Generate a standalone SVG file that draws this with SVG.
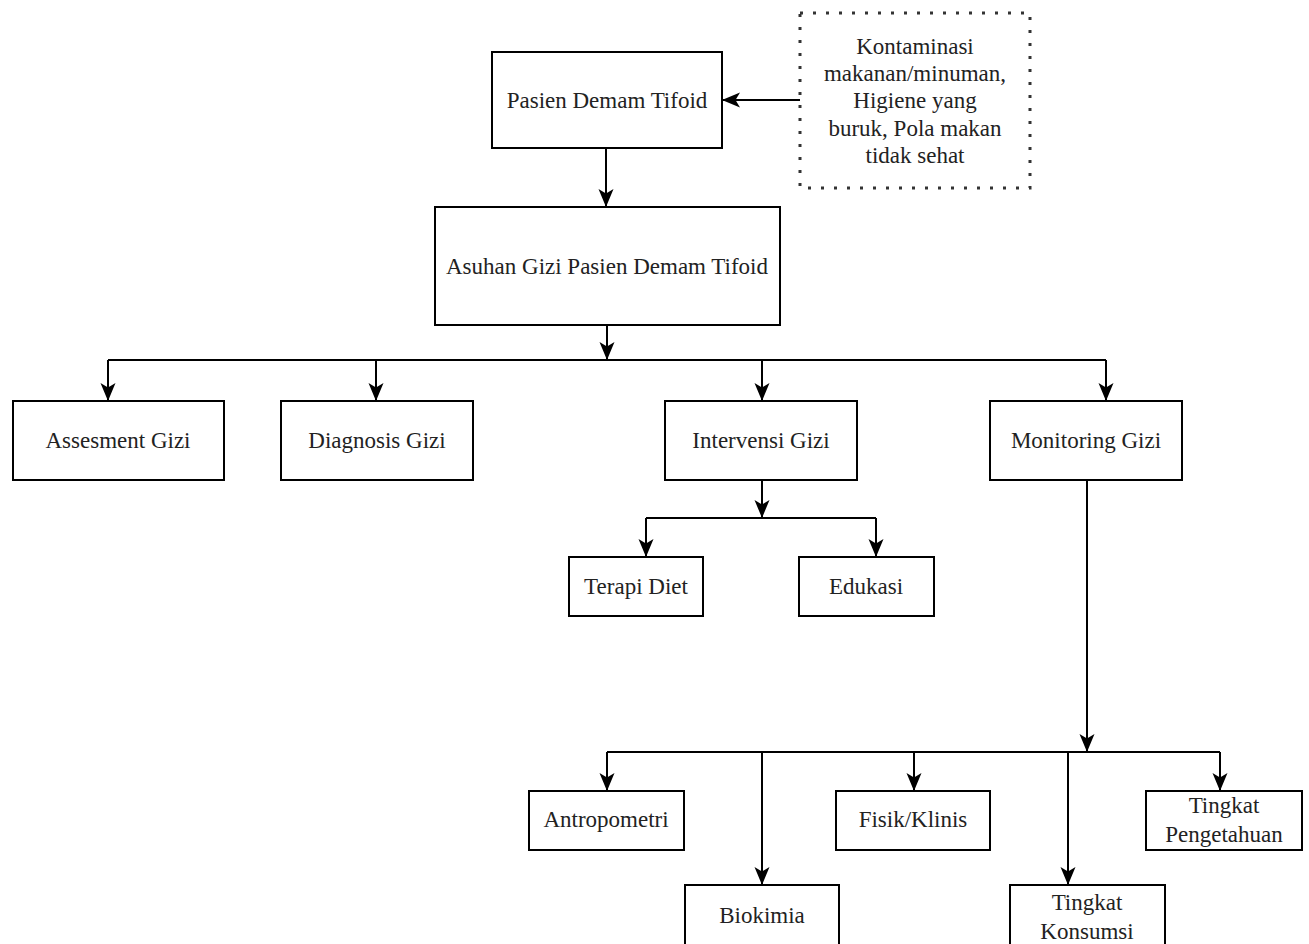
<svg xmlns="http://www.w3.org/2000/svg" width="1309" height="944" viewBox="0 0 1309 944">
<style>
.box{fill:#fff;stroke:#000;stroke-width:2}
.dot{fill:#fff;stroke:#333;stroke-width:3;stroke-dasharray:3 10}
.t{font-family:'Liberation Serif','Tinos','DejaVu Serif',serif;font-size:23px;fill:#222;text-anchor:middle}
.c{fill:none;stroke:#000;stroke-width:2}
</style>
<defs>
<marker id="ah" viewBox="0 0 18 16" refX="17" refY="8" markerWidth="9" markerHeight="8" markerUnits="strokeWidth" orient="auto">
<path d="M0,0.5 L18,8 L0,15.5 L4.5,8 Z" fill="#000"/>
</marker>
</defs>
<g id="connectors">
<path class="c" d="M800,100 H723" marker-end="url(#ah)"/>
<path class="c" d="M606,148 V206" marker-end="url(#ah)"/>
<path class="c" d="M607,325 V359" marker-end="url(#ah)"/>
<path class="c" d="M108,360 H1106"/>
<path class="c" d="M108,360 V400" marker-end="url(#ah)"/>
<path class="c" d="M376,360 V400" marker-end="url(#ah)"/>
<path class="c" d="M762,360 V400" marker-end="url(#ah)"/>
<path class="c" d="M1106,360 V400" marker-end="url(#ah)"/>
<path class="c" d="M762,480 V517" marker-end="url(#ah)"/>
<path class="c" d="M646,518 H876"/>
<path class="c" d="M646,518 V556" marker-end="url(#ah)"/>
<path class="c" d="M876,518 V556" marker-end="url(#ah)"/>
<path class="c" d="M1087,480 V751" marker-end="url(#ah)"/>
<path class="c" d="M607,752 H1220"/>
<path class="c" d="M607,752 V790" marker-end="url(#ah)"/>
<path class="c" d="M762,752 V884" marker-end="url(#ah)"/>
<path class="c" d="M914,752 V790" marker-end="url(#ah)"/>
<path class="c" d="M1068,752 V884" marker-end="url(#ah)"/>
<path class="c" d="M1220,752 V790" marker-end="url(#ah)"/>
</g>
<g id="faktor">
<rect class="dot" x="800" y="13" width="230" height="175"/>
<text class="t" x="915" y="54">Kontaminasi</text>
<text class="t" x="915" y="81">makanan/minuman,</text>
<text class="t" x="915" y="108">Higiene yang</text>
<text class="t" x="915" y="136">buruk, Pola makan</text>
<text class="t" x="915" y="163">tidak sehat</text>
</g>
<g id="pasien">
<rect class="box" x="492" y="52" width="230" height="96"/>
<text class="t" x="607" y="108">Pasien Demam Tifoid</text>
</g>
<g id="asuhan">
<rect class="box" x="435" y="207" width="345" height="118"/>
<text class="t" x="607" y="274">Asuhan Gizi Pasien Demam Tifoid</text>
</g>
<g id="assesment">
<rect class="box" x="13" y="401" width="211" height="79"/>
<text class="t" x="118" y="448">Assesment Gizi</text>
</g>
<g id="diagnosis">
<rect class="box" x="281" y="401" width="192" height="79"/>
<text class="t" x="377" y="448">Diagnosis Gizi</text>
</g>
<g id="intervensi">
<rect class="box" x="665" y="401" width="192" height="79"/>
<text class="t" x="761" y="448">Intervensi Gizi</text>
</g>
<g id="monitoring">
<rect class="box" x="990" y="401" width="192" height="79"/>
<text class="t" x="1086" y="448">Monitoring Gizi</text>
</g>
<g id="terapi">
<rect class="box" x="569" y="557" width="134" height="59"/>
<text class="t" x="636" y="594">Terapi Diet</text>
</g>
<g id="edukasi">
<rect class="box" x="799" y="557" width="135" height="59"/>
<text class="t" x="866" y="594">Edukasi</text>
</g>
<g id="antropometri">
<rect class="box" x="529" y="791" width="155" height="59"/>
<text class="t" x="606" y="827">Antropometri</text>
</g>
<g id="biokimia">
<rect class="box" x="685" y="885" width="154" height="70"/>
<text class="t" x="762" y="923">Biokimia</text>
</g>
<g id="fisik">
<rect class="box" x="836" y="791" width="154" height="59"/>
<text class="t" x="913" y="827">Fisik/Klinis</text>
</g>
<g id="konsumsi">
<rect class="box" x="1010" y="885" width="155" height="70"/>
<text class="t" x="1087" y="910">Tingkat</text>
<text class="t" x="1087" y="939">Konsumsi</text>
</g>
<g id="pengetahuan">
<rect class="box" x="1146" y="791" width="156" height="59"/>
<text class="t" x="1224" y="813">Tingkat</text>
<text class="t" x="1224" y="842">Pengetahuan</text>
</g>
</svg>
